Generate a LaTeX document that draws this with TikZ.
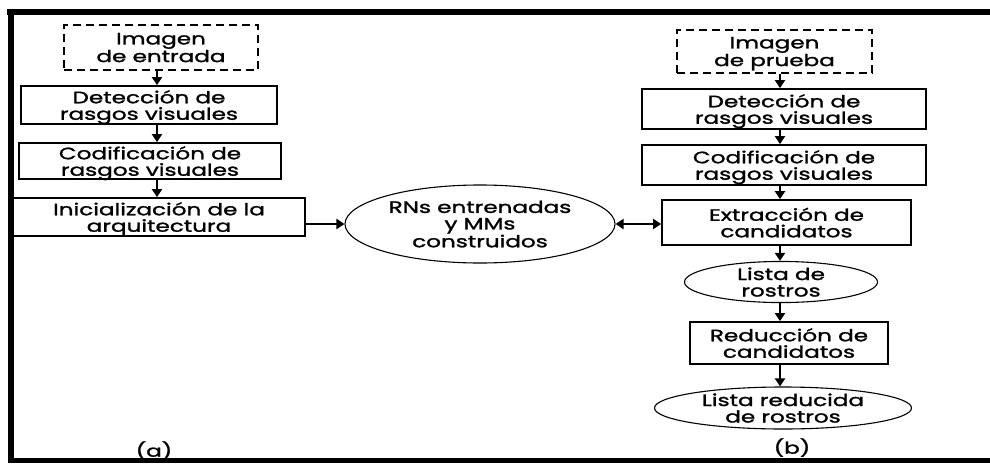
\documentclass[tikz,border=0pt]{standalone}
\usepackage{fontspec}
\setmainfont{Poppins}[FakeStretch=1.4,FakeBold=1.5]
\usetikzlibrary{arrows.meta,shapes.geometric}
\begin{document}
\begin{tikzpicture}[x=1pt,y=-1pt,
  txt/.style={font=\fontsize{16.5}{16.5}\selectfont,align=center,inner sep=0pt,text depth=0pt},
  pbox/.style={txt,draw,line width=1.8pt,rectangle},
  dbox/.style={txt,draw,line width=2.6pt,dash pattern=on 8pt off 5pt,rectangle},
  oval/.style={txt,draw,line width=1.1pt,ellipse},
  arr/.style={line width=2pt,-{Triangle[length=8pt,width=10pt]}},
  darr/.style={line width=2pt,{Triangle[length=8pt,width=10pt]}-{Triangle[length=8pt,width=10pt]}},
  frame/.style={line width=6pt,line cap=butt}]
\useasboundingbox (0,0) rectangle (990,463);
% frame
\coordinate (ftl) at (7,12);
\coordinate (ftr) at (990,12);
\coordinate (fl1) at (11,9);
\coordinate (fl2) at (11,463);
\coordinate (fbl) at (8,460.5);
\coordinate (fbr) at (990,460.5);
\draw[frame] (ftl) -- (ftr);
\draw[frame] (fl1) -- (fl2);
\draw[line width=5pt] (fbl) -- (fbr);
% left column
\node[dbox,minimum width=194pt,minimum height=45pt] (img1) at (161,47.5) {Imagen\\de entrada};
\node[pbox,minimum width=256pt,minimum height=38pt] (det1) at (149,105) {Detección de\\rasgos visuales};
\node[pbox,minimum width=262pt,minimum height=36pt] (cod1) at (150,161) {Codificación de\\rasgos visuales};
\node[pbox,minimum width=292pt,minimum height=38pt] (ini1) at (159,217) {Inicialización de la\\arquitectura};
\node[oval,minimum width=270pt,minimum height=78pt] (rn) at (480,224) {RNs entrenadas\\y MMs\\construidos};
% right column
\node[dbox,minimum width=195pt,minimum height=43pt] (img2) at (774.5,51.5) {Imagen\\de prueba};
\node[pbox,minimum width=284pt,minimum height=40pt] (det2) at (784,109) {Detección de\\rasgos visuales};
\node[pbox,minimum width=284pt,minimum height=40pt] (cod2) at (784,165) {Codificación de\\rasgos visuales};
\node[pbox,minimum width=249pt,minimum height=45pt] (ext2) at (786.5,222.5) {Extracción de\\candidatos};
\node[oval,minimum width=193pt,minimum height=38pt] (lis2) at (781,282) {Lista de\\rostros};
\node[pbox,minimum width=198pt,minimum height=42pt] (red2) at (789,343) {Reducción de\\candidatos};
\node[oval,minimum width=257pt,minimum height=42pt] (lrd2) at (783,408) {Lista reducida\\de rostros};
% labels
\node[txt] (la) at (154,449) {(a)};
\node[txt] (lb) at (792,446) {(b)};
% arrows left
\coordinate (axl) at (157,0);
\draw[arr] (img1.south -| axl) -- (det1.north -| axl);
\draw[arr] (det1.south -| axl) -- (cod1.north -| axl);
\draw[arr] (cod1.south -| axl) -- (ini1.north -| axl);
\draw[arr] (ini1.east |- rn.west) -- (rn.west);
\draw[darr] (rn.east) -- (ext2.west |- rn.east);
% arrows right
\coordinate (axr) at (780,0);
\draw[arr] (img2.south -| axr) -- (det2.north -| axr);
\draw[arr] (det2.south -| axr) -- (cod2.north -| axr);
\draw[arr] (cod2.south -| axr) -- (ext2.north -| axr);
\draw[arr] (ext2.south -| axr) -- (lis2.north -| axr);
\draw[arr] (lis2.south -| axr) -- (red2.north -| axr);
\draw[arr] (red2.south -| axr) -- (lrd2.north -| axr);
\end{tikzpicture}
\end{document}
